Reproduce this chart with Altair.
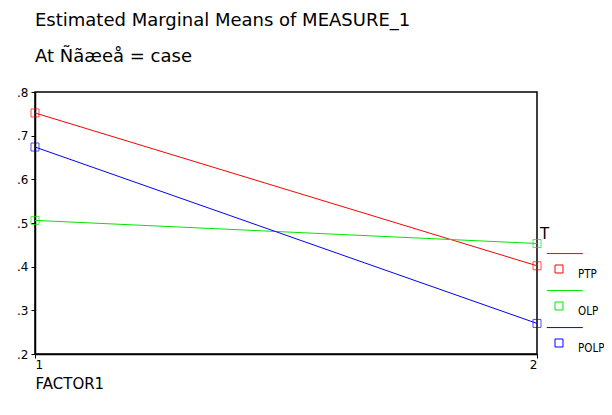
import altair as alt
import pandas as pd

factor_levels = [1, 2]
series_names = ["PTP", "OLP", "POLP"]
ptp_values = [0.752, 0.402]
olp_values = [0.506, 0.453]
polp_values = [0.674, 0.270]
series_colors = ["#ff0000", "#00e600", "#0000ff"]
y_ticks = [0.2, 0.3, 0.4, 0.5, 0.6, 0.7, 0.8]

rows = []
for name, vals in zip(series_names, [ptp_values, olp_values, polp_values]):
    for f, v in zip(factor_levels, vals):
        rows.append({"FACTOR1": f, "mean": v, "T": name})
df = pd.DataFrame(rows)

FONT = "DejaVu Sans"
legend_path = "M-0.22,-0.22L0.22,-0.22L0.22,0.22L-0.22,0.22Z M-0.672,-0.85L1.311,-0.85"

color = alt.Color(
    "T:N",
    scale=alt.Scale(domain=series_names, range=series_colors),
    legend=alt.Legend(
        title="T", orient="none", legendX=505, legendY=135,
        symbolType=legend_path, symbolSize=1318, symbolStrokeWidth=1,
        symbolFillColor="transparent", rowPadding=6, padding=0,
        titleFont=FONT, titleFontSize=15, titleFontWeight="normal", titleColor="black",
        titlePadding=8, labelFont="DejaVu Sans Condensed", labelFontSize=11.5, labelColor="black",
        labelOffset=0, labelBaseline="top",
    ),
)

x = alt.X(
    "FACTOR1:Q",
    scale=alt.Scale(domain=[1, 2], nice=False, zero=False),
    axis=alt.Axis(
        values=factor_levels, format="d", grid=False, title="FACTOR1",
        titleFont=FONT, titleFontSize=15, titleFontWeight="normal", titleColor="black",
        titleAnchor="start", titleAlign="left", titleX=0, titleY=34, titleBaseline="alphabetic",
        labelFont=FONT, labelFontSize=12, labelColor="black", labelPadding=1,
        tickSize=4, tickColor="black", domainColor="black", domainWidth=1.5,
    ),
)
y = alt.Y(
    "mean:Q",
    scale=alt.Scale(domain=[0.2, 0.8], nice=False, zero=False),
    axis=alt.Axis(
        values=y_ticks, labelExpr="substring(format(datum.value, '.1f'), 1)",
        grid=False, title=None, labelFont=FONT, labelFontSize=12, labelColor="black",
        labelPadding=3, tickSize=4, tickColor="black", domainColor="black", domainWidth=1.5,
    ),
)

lines = alt.Chart(df).mark_line(strokeWidth=1).encode(x=x, y=y, color=color, detail="T:N")
points = alt.Chart(df).mark_point(shape="square", filled=False, size=64, strokeWidth=1).encode(
    x=x, y=y, color=alt.Color("T:N", scale=alt.Scale(domain=series_names, range=series_colors), legend=None)
)

chart = (
    alt.layer(lines, points)
    .properties(
        width=502, height=262,
        autosize=alt.AutoSizeParams(type="none"),
        padding={"left": 27, "top": 84, "right": 67, "bottom": 45},
        title=alt.TitleParams(
            text="Estimated Marginal Means of MEASURE_1",
            subtitle="At Ñãæeå = case",
            anchor="start", frame="group", font=FONT, fontSize=18, fontWeight="normal",
            color="black", subtitleFont=FONT, subtitleFontSize=18, subtitleColor="black",
            subtitlePadding=18, offset=20,
        ),
    )
    .configure_view(stroke="black", strokeWidth=1.5)
)

chart.save("out.html", embed_options={"renderer": "svg", "actions": False})
